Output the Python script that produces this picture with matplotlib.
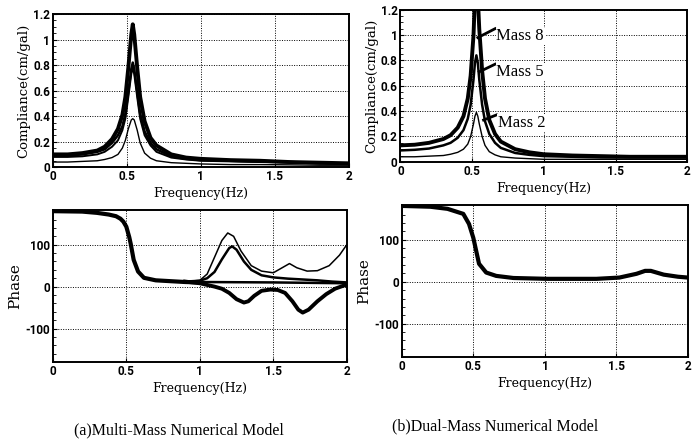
import matplotlib
matplotlib.use("Agg")
import matplotlib.pyplot as plt
from matplotlib.ticker import MultipleLocator

# ---- compliance, multi-mass model (a) ----
f_multi = [0, 0.1, 0.2, 0.3, 0.35, 0.4, 0.44, 0.47, 0.49, 0.51, 0.53, 0.54,
           0.55, 0.57, 0.59, 0.62, 0.66, 0.7, 0.8, 0.9, 1.0, 1.2, 1.4, 1.6, 1.8, 2.0]
comp_a1 = [0.10, 0.10, 0.11, 0.13, 0.16, 0.22, 0.30, 0.41, 0.55, 0.78, 1.04, 1.12,
           1.04, 0.78, 0.55, 0.36, 0.23, 0.17, 0.10, 0.075, 0.065, 0.055, 0.05, 0.04, 0.035, 0.03]
comp_a2 = [0.09, 0.09, 0.10, 0.12, 0.14, 0.19, 0.25, 0.32, 0.42, 0.59, 0.77, 0.82,
           0.77, 0.59, 0.42, 0.28, 0.19, 0.14, 0.085, 0.065, 0.055, 0.05, 0.045, 0.04, 0.03, 0.03]
comp_a3 = [0.08, 0.08, 0.085, 0.10, 0.12, 0.16, 0.21, 0.29, 0.38, 0.55, 0.73, 0.78,
           0.73, 0.55, 0.38, 0.25, 0.17, 0.12, 0.075, 0.06, 0.05, 0.045, 0.04, 0.035, 0.03, 0.025]
comp_a4 = [0.04, 0.04, 0.045, 0.05, 0.06, 0.075, 0.10, 0.15, 0.21, 0.30, 0.37, 0.38,
           0.37, 0.29, 0.19, 0.11, 0.07, 0.05, 0.035, 0.03, 0.025, 0.02, 0.02, 0.018, 0.015, 0.015]

# ---- compliance, dual-mass model (b) ----
f_dual = [0, 0.1, 0.2, 0.3, 0.35, 0.4, 0.44, 0.47, 0.49, 0.51, 0.52, 0.53, 0.54,
          0.55, 0.57, 0.59, 0.62, 0.66, 0.7, 0.8, 0.9, 1.0, 1.2, 1.4, 1.6, 1.8, 2.0]
mass8 = [0.13, 0.135, 0.15, 0.18, 0.21, 0.27, 0.36, 0.50, 0.68, 1.0, 1.3, 1.45, 1.3,
         1.05, 0.72, 0.50, 0.33, 0.22, 0.16, 0.10, 0.075, 0.06, 0.05, 0.045, 0.04, 0.04, 0.04]
mass5 = [0.09, 0.095, 0.105, 0.13, 0.15, 0.19, 0.25, 0.34, 0.45, 0.65, 0.78, 0.84, 0.78,
         0.65, 0.45, 0.32, 0.22, 0.15, 0.11, 0.07, 0.055, 0.045, 0.04, 0.035, 0.035, 0.035, 0.035]
mass2 = [0.04, 0.04, 0.045, 0.05, 0.06, 0.075, 0.10, 0.14, 0.20, 0.30, 0.36, 0.39, 0.36,
         0.30, 0.20, 0.13, 0.08, 0.055, 0.04, 0.03, 0.025, 0.02, 0.02, 0.02, 0.02, 0.02, 0.02]

# ---- phase, multi-mass model (a) ----
f_ph_low = [0, 0.2, 0.3, 0.38, 0.43, 0.46, 0.48, 0.5, 0.52, 0.53, 0.55, 0.58, 0.62,
            0.7, 0.8, 0.9, 1.0]
ph_low = [180, 179, 176, 172, 168, 162, 155, 143, 118, 102, 64, 36, 21, 15, 13, 11, 10]

f_ph_thin = [0.9, 1.0, 1.05, 1.1, 1.15, 1.19, 1.23, 1.28, 1.35, 1.42, 1.5, 1.56, 1.61,
             1.66, 1.73, 1.8, 1.88, 1.95, 2.0]
ph_thin = [12, 15, 30, 70, 110, 128, 120, 85, 50, 37, 33, 45, 55, 45, 37, 38, 50, 75, 100]

f_ph_mid = [0.9, 1.0, 1.05, 1.1, 1.15, 1.2, 1.22, 1.25, 1.3, 1.35, 1.42, 1.5, 1.6, 1.7,
            1.8, 1.9, 2.0]
ph_mid = [12, 14, 20, 35, 65, 92, 96, 88, 60, 40, 27, 22, 19, 17, 15, 12, 10]

f_ph_flat = [0.9, 1.0, 1.5, 2.0]
ph_flat = [12, 11, 10, 8]

f_ph_neg = [0.9, 1.0, 1.05, 1.1, 1.15, 1.2, 1.25, 1.3, 1.33, 1.37, 1.42, 1.48, 1.53,
            1.58, 1.63, 1.67, 1.7, 1.74, 1.8, 1.86, 1.92, 2.0]
ph_neg = [12, 8, 4, 0, -5, -15, -30, -38, -35, -22, -10, -7, -8, -15, -35, -55, -62,
          -55, -35, -18, -5, 5]

# ---- phase, dual-mass model (b) ----
f_ph_dual = [0, 0.2, 0.32, 0.43, 0.47, 0.5, 0.52, 0.54, 0.59, 0.66, 0.78, 1.02, 1.36,
             1.52, 1.64, 1.7, 1.74, 1.83, 1.93, 2.0]
ph_dual = [181, 179, 174, 162, 138, 105, 74, 43, 22, 14, 9, 7, 7, 10, 19, 26, 26, 17, 12, 10]

x_ticks = [0, 0.5, 1, 1.5, 2]
x_labels = ["0", "0.5", "1", "1.5", "2"]
comp_ticks = [0, 0.2, 0.4, 0.6, 0.8, 1, 1.2]
comp_labels = ["0", "0.2", "0.4", "0.6", "0.8", "1", "1.2"]
ph_ticks = [-100, 0, 100]
captions = ["(a)Multi-Mass Numerical Model", "(b)Dual-Mass Numerical Model"]
mass_names = ["Mass 8", "Mass 5", "Mass 2"]

tick_font = ["Roboto", "DejaVu Sans"]
label_font = ["DejaVu Serif"]

fig = plt.figure(figsize=(6.95, 4.41), dpi=100)
ax_tl = fig.add_axes([0.076, 0.621, 0.426, 0.347])
ax_tr = fig.add_axes([0.576, 0.633, 0.413, 0.345])
ax_bl = fig.add_axes([0.076, 0.179, 0.423, 0.345])
ax_br = fig.add_axes([0.578, 0.190, 0.412, 0.345])


def style(ax, yticks, ylabels, ylim, ylabel, ysize=9.5):
    ax.set_xlim(0, 2)
    ax.set_ylim(*ylim)
    ax.set_xticks(x_ticks)
    ax.set_xticklabels(x_labels)
    ax.set_yticks(yticks)
    ax.set_yticklabels(ylabels)
    for lab in ax.get_xticklabels() + ax.get_yticklabels():
        lab.set_family(tick_font)
        lab.set_fontweight("bold")
        lab.set_fontsize(8.5)
    ax.tick_params(direction="in", length=3, width=0.8, pad=2)
    ax.tick_params(axis="y", which="minor", direction="in", length=2, width=0.6)
    ax.grid(True, color="black", linestyle=(0, (1, 1.5)), linewidth=0.7)
    for s in ax.spines.values():
        s.set_linewidth(1.4)
    ax.set_xlabel("Frequency(Hz)", family=label_font, fontsize=9, labelpad=3)
    ax.set_ylabel(ylabel, family=label_font, fontsize=ysize, labelpad=2)


# (a) compliance
ax_tl.plot(f_multi, comp_a1, color="black", lw=2.8)
ax_tl.plot(f_multi, comp_a2, color="black", lw=1.8)
ax_tl.plot(f_multi, comp_a3, color="black", lw=1.4)
ax_tl.plot(f_multi, comp_a4, color="black", lw=1.0)
style(ax_tl, comp_ticks, comp_labels, (0, 1.2), "Compliance(cm/gal)")
ax_tl.yaxis.set_minor_locator(MultipleLocator(0.05))

# (b) compliance
ax_tr.plot(f_dual, mass8, color="black", lw=2.8)
ax_tr.plot(f_dual, mass5, color="black", lw=1.8)
ax_tr.plot(f_dual, mass2, color="black", lw=1.0)
style(ax_tr, comp_ticks, comp_labels, (0, 1.2), "Compliance(cm/gal)")
ax_tr.yaxis.set_minor_locator(MultipleLocator(0.05))
for name, (x0, y0, x1, y1) in zip(mass_names, [(0.54, 0.98, 0.66, 1.05),
                                               (0.55, 0.71, 0.66, 0.77),
                                               (0.58, 0.33, 0.67, 0.37)]):
    ax_tr.plot([x0, x1], [y0, y1], color="black", lw=2)
    ax_tr.text(x1 + 0.01, y1 - 0.06, name, family=["Liberation Serif"], fontsize=12,
               va="center", ha="left",
               bbox=dict(facecolor="white", edgecolor="none", pad=0.5))

# (a) phase
ax_bl.plot(f_ph_low, ph_low, color="black", lw=3.0)
ax_bl.plot(f_ph_thin, ph_thin, color="black", lw=1.1)
ax_bl.plot(f_ph_mid, ph_mid, color="black", lw=1.8)
ax_bl.plot(f_ph_flat, ph_flat, color="black", lw=1.8)
ax_bl.plot(f_ph_neg, ph_neg, color="black", lw=2.8)
style(ax_bl, ph_ticks, [str(t) for t in ph_ticks], (-180, 183), "Phase", ysize=11)
ax_bl.yaxis.set_minor_locator(MultipleLocator(20))

# (b) phase
ax_br.plot(f_ph_dual, ph_dual, color="black", lw=3.0)
style(ax_br, ph_ticks, [str(t) for t in ph_ticks], (-180, 183), "Phase", ysize=11)
ax_br.yaxis.set_minor_locator(MultipleLocator(20))

fig.text(0.257, 0.025, captions[0], ha="center", va="center",
         family=["Liberation Serif"], fontsize=11.5)
fig.text(0.712, 0.032, captions[1], ha="center", va="center",
         family=["Liberation Serif"], fontsize=11.5)

fig.savefig("out.png", dpi=100)
